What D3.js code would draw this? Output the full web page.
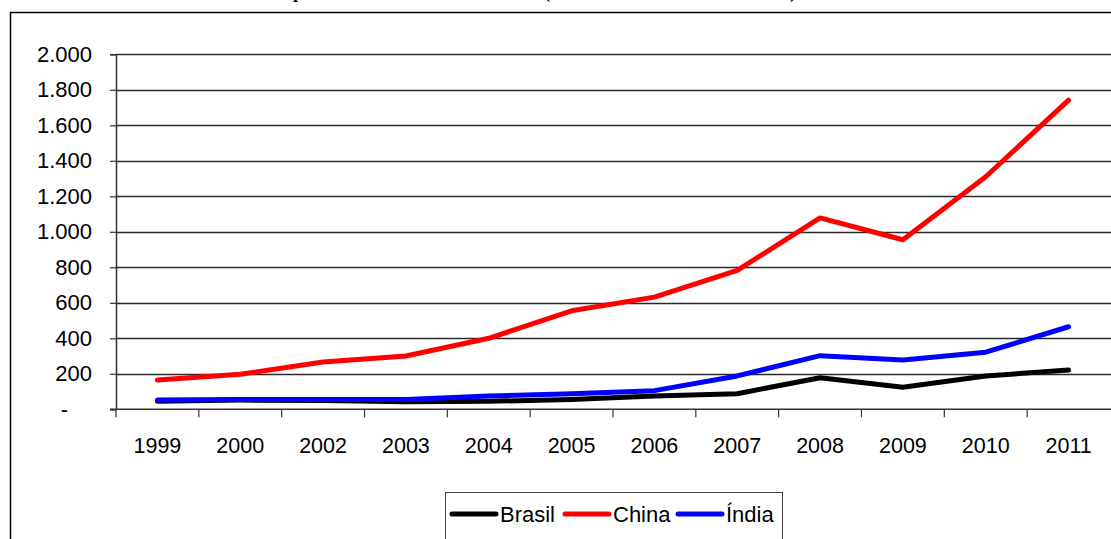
<!DOCTYPE html>
<html>
<head>
<meta charset="utf-8">
<script src="https://cdn.jsdelivr.net/npm/d3@7"></script>
<style>
    body { margin: 0; background: #fff; }
    svg { display: block; font-family: "Liberation Sans", Arial, sans-serif; }
</style>
</head>
<body>
<div id="chart"></div>
<script>
// importações (US$ bilhões)
const years = ["1999", "2000", "2002", "2003", "2004", "2005", "2006", "2007", "2008", "2009", "2010", "2011"];
const brasil = [45, 52, 50, 42, 45, 55, 75, 88, 178, 124, 188, 221];
const china = [165, 197, 266, 300, 400, 555, 632, 783, 1078, 955, 1310, 1742];
const india = [52, 55, 55, 55, 75, 88, 105, 188, 302, 278, 322, 465];
const yTicks = [0, 200, 400, 600, 800, 1000, 1200, 1400, 1600, 1800, 2000];

const series = [
    { name: "Brasil", values: brasil, color: "#000000" },
    { name: "China", values: china, color: "#ff0000" },
    { name: "Índia", values: india, color: "#0000ff" },
];

const W = 1111, H = 539;
const plotLeft = 116, plotRight = 1110, plotTop = 54.3, plotBottom = 409.3;

const svg = d3.select("#chart").append("svg")
    .attr("width", W)
    .attr("height", H);

// titulo cortado no topo (so os descendentes aparecem)
const titleStyle = sel => sel
    .attr("y", -2)
    .style("font-family", "'Liberation Serif', 'Times New Roman', serif")
    .style("font-weight", "bold")
    .style("font-size", "18px");

const title1 = svg.append("text").call(titleStyle).text("Total importado");
const offP = title1.node().getSubStringLength(0, 8);
title1.attr("x", 293 - offP);

svg.append("text").call(titleStyle)
    .attr("x", 544)
    .attr("textLength", 252)
    .attr("lengthAdjust", "spacing")
    .text("(em bilhões de dólares)");

// moldura
svg.append("rect")
    .attr("x", 10.5).attr("y", 12.5)
    .attr("width", 1300).attr("height", 700)
    .attr("fill", "none")
    .attr("stroke", "#000")
    .attr("stroke-width", 1.5);

const xScale = d3.scaleBand()
    .domain(years)
    .range([plotLeft, plotRight]);

const yScale = d3.scaleLinear()
    .domain([0, 2000])
    .range([plotBottom, plotTop]);

// grade horizontal
svg.append("g")
    .selectAll("line")
    .data(yTicks.filter(d => d > 0))
    .enter()
    .append("line")
    .attr("x1", plotLeft).attr("x2", W)
    .attr("y1", d => Math.round(yScale(d)) + 0.5)
    .attr("y2", d => Math.round(yScale(d)) + 0.5)
    .attr("stroke", "#2a2a2a")
    .attr("stroke-width", 1.3);

// eixo y
const yAxis = svg.append("g")
    .attr("transform", `translate(${plotLeft}, 0)`)
    .call(d3.axisLeft(yScale)
        .tickValues(yTicks)
        .tickSize(6)
        .tickPadding(18)
        .tickFormat(d => d === 0 ? "-" : d3.format(",")(d).replace(/,/g, "."))
    );
yAxis.select(".domain").attr("stroke", "#333").attr("stroke-width", 1.5);
yAxis.selectAll(".tick line").attr("stroke", "#333").attr("stroke-width", 1.2);
yAxis.selectAll(".tick text")
    .style("font-size", "22px")
    .attr("fill", "#000")
    .filter(d => d === 0)
    .attr("x", -48);

// eixo x
const xAxis = svg.append("g")
    .attr("transform", `translate(0, ${plotBottom})`)
    .call(d3.axisBottom(xScale).tickSize(0).tickPadding(28));
xAxis.select(".domain").remove();
xAxis.selectAll(".tick text").style("font-size", "21.5px").attr("fill", "#000");

svg.append("line")
    .attr("x1", plotLeft - 6).attr("x2", W)
    .attr("y1", plotBottom).attr("y2", plotBottom)
    .attr("stroke", "#333")
    .attr("stroke-width", 1.5);

svg.append("g")
    .selectAll("line")
    .data(years)
    .enter()
    .append("line")
    .attr("x1", d => xScale(d)).attr("x2", d => xScale(d))
    .attr("y1", plotBottom).attr("y2", plotBottom + 8)
    .attr("stroke", "#333")
    .attr("stroke-width", 1.2);

// linhas
const line = d3.line()
    .x((d, i) => xScale(years[i]) + xScale.bandwidth() / 2)
    .y(d => yScale(d));

svg.append("g")
    .selectAll("path")
    .data(series)
    .enter()
    .append("path")
    .attr("d", d => line(d.values))
    .attr("fill", "none")
    .attr("stroke", d => d.color)
    .attr("stroke-width", 5)
    .attr("stroke-linecap", "round")
    .attr("stroke-linejoin", "round");

// legenda
const legend = svg.append("g");
legend.append("rect")
    .attr("x", 445.5).attr("y", 492.5)
    .attr("width", 337).attr("height", 60)
    .attr("fill", "#fff")
    .attr("stroke", "#444")
    .attr("stroke-width", 1);

const legendX = [452, 565, 678];
const items = legend.selectAll("g.item")
    .data(series)
    .enter()
    .append("g")
    .attr("transform", (d, i) => `translate(${legendX[i]}, 514)`);

items.append("line")
    .attr("x1", 0).attr("x2", 44)
    .attr("stroke", d => d.color)
    .attr("stroke-width", 5)
    .attr("stroke-linecap", "round");

items.append("text")
    .attr("x", 48)
    .attr("dy", "0.36em")
    .style("font-size", "22px")
    .text(d => d.name);
</script>
</body>
</html>
